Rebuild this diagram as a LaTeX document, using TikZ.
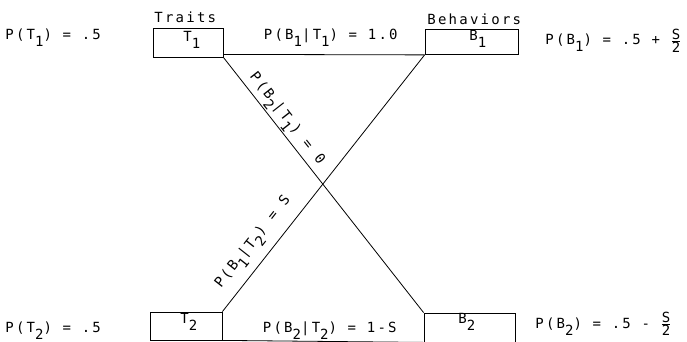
\documentclass[tikz,border=0pt]{standalone}
\usepackage{fontspec}
\setmainfont{DejaVu Sans Mono}[LetterSpace=16]
\newcommand\sub[1]{\raisebox{-7pt}{#1}}
\newcommand\sfrac{\ensuremath{\frac{\mbox{S}}{\mbox{2}}}}
\begin{document}
\begin{tikzpicture}[x=1pt,y=-1pt,line width=0.8pt,
  every node/.style={font=\fontsize{14}{16}\selectfont},
  box/.style={draw,inner sep=0pt},
  txt/.style={inner sep=1pt}]
\useasboundingbox (0,0) rectangle (687,342);
% boxes
\node[box,minimum width=70pt,minimum height=29pt] (T1) at (188,42.5) {};
\node[box,minimum width=93pt,minimum height=25pt] (B1) at (471.5,42) {};
\node[box,minimum width=72pt,minimum height=28pt] (T2) at (186,326) {};
\node[box,minimum width=91pt,minimum height=29pt] (B2) at (469.5,327.5) {};
% box texts
\node[txt,anchor=base west] (t1) at (182,42) {T\sub{1}};
\node[txt,anchor=base west] (b1) at (468,41) {B\sub{1}};
\node[txt,anchor=base west] (t2) at (179,323) {T\sub{2}};
\node[txt,anchor=base west] (b2) at (457,323) {B\sub{2}};
\node[txt,anchor=base west] (tr) at (153,23) {Traits};
\node[txt,anchor=base west] (bh) at (426,25) {Behaviors};
% connectors
\draw ([yshift=3pt]T1.south east) -- (B1.south west);
\draw (T1.south east) -- (B2.north west)
  node[txt,pos=0.27,sloped,above=0pt] (l1) {P(B\sub{2}|T\sub{1}) = 0};
\draw (T2.north east) -- (B1.south west)
  node[txt,pos=0.225,sloped,above=7pt] (l2) {P(B\sub{1}|T\sub{2}) = S};
\draw (T2.south east) -- (B2.south west);
% outer labels
\node[txt,anchor=base west] (p1) at (4,40) {P(T\sub{1}) = .5};
\node[txt,anchor=base east] (c11) at (399,40) {P(B\sub{1}|T\sub{1}) = 1.0};
\node[txt,anchor=base west] (pb1) at (544,45) {P(B\sub{1}) = .5 + \sfrac};
\node[txt,anchor=base west] (p2) at (4,332) {P(T\sub{2}) = .5};
\node[txt,anchor=base east] (c22) at (398,332) {P(B\sub{2}|T\sub{2}) = 1-S};
\node[txt,anchor=base west] (pb2) at (534,328) {P(B\sub{2}) = .5 - \sfrac};
\end{tikzpicture}
\end{document}
